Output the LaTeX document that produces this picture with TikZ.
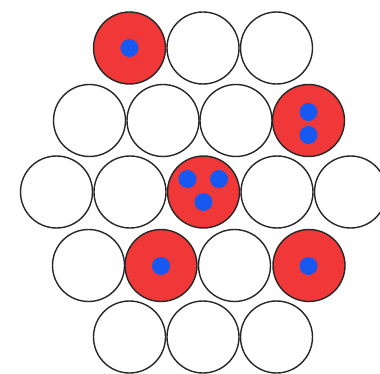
\documentclass[tikz,border=0pt]{standalone}
\definecolor{ballred}{RGB}{240,56,56}
\definecolor{dotblue}{RGB}{22,88,240}
\tikzset{
  ball/.style={circle,draw=black!85,line width=1.4pt,minimum size=72pt,inner sep=0pt,fill=white},
  redball/.style={ball,fill=ballred},
  dot/.style={circle,fill=dotblue,minimum size=18pt,inner sep=0pt}
}
\begin{document}
\begin{tikzpicture}[x=1pt,y=-1pt]
\useasboundingbox (0,0) rectangle (380,374);
% row 1
\node[redball] (a1) at (129.5,48) {};
\node[ball] (a2) at (203,48) {};
\node[ball] (a3) at (276.5,48) {};
% row 2
\node[ball] (b1) at (89.5,120.5) {};
\node[ball] (b2) at (163,120.5) {};
\node[ball] (b3) at (236,120.5) {};
\node[redball] (b4) at (308.5,120.5) {};
% row 3
\node[ball] (c1) at (56.5,192) {};
\node[ball] (c2) at (130,192) {};
\node[redball] (c3) at (203.5,192) {};
\node[ball] (c4) at (277,192) {};
\node[ball] (c5) at (350.5,192) {};
% row 4
\node[ball] (d1) at (88.5,265.5) {};
\node[redball] (d2) at (161,265.5) {};
\node[ball] (d3) at (234.5,265.5) {};
\node[redball] (d4) at (309,265.5) {};
% row 5
\node[ball] (e1) at (129.5,337) {};
\node[ball] (e2) at (203,337) {};
\node[ball] (e3) at (276.5,337) {};
% dots
\node[dot] (p1) at (129.5,48) {};
\node[dot] (p2) at (308.5,112) {};
\node[dot] (p3) at (308.5,135) {};
\node[dot] (p4) at (187.5,179) {};
\node[dot] (p5) at (219,179) {};
\node[dot] (p6) at (203.5,202) {};
\node[dot] (p7) at (161,266) {};
\node[dot] (p8) at (308.5,266) {};
\end{tikzpicture}
\end{document}
